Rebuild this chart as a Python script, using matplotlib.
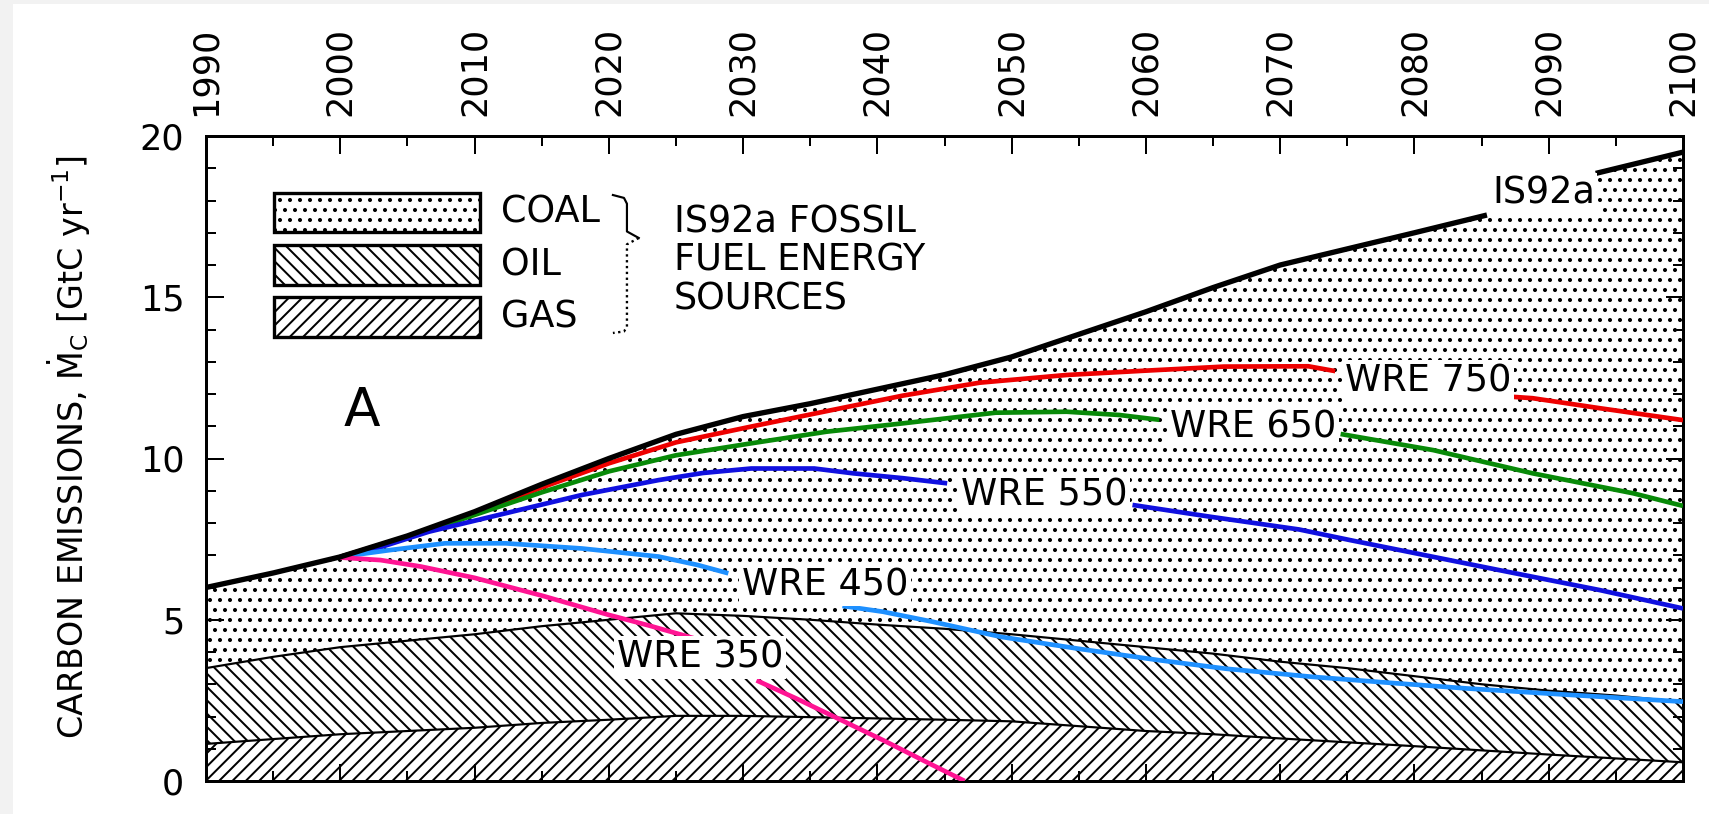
import matplotlib
matplotlib.use("Agg")
import matplotlib.pyplot as plt
import numpy as np
from matplotlib.patches import Rectangle
from matplotlib.ticker import MultipleLocator

plt.rcParams['font.family'] = ['DejaVu Sans']
plt.rcParams['hatch.linewidth'] = 1.2

# IS92a fossil fuel emissions split by source (GtC/yr)
years = [1990, 1995, 2000, 2005, 2010, 2015, 2020, 2025, 2030, 2035, 2040, 2045,
         2050, 2055, 2060, 2065, 2070, 2075, 2080, 2085, 2090, 2095, 2100]
total_is92a = [6.0, 6.45, 6.95, 7.6, 8.35, 9.2, 10.0, 10.75, 11.3, 11.7, 12.15, 12.6,
               13.15, 13.85, 14.55, 15.3, 16.0, 16.5, 17.0, 17.55, 18.3, 18.95, 19.5]
oil_top = [3.5, 3.85, 4.15, 4.35, 4.55, 4.8, 5.0, 5.2, 5.12, 5.0, 4.85, 4.72,
           4.55, 4.35, 4.15, 3.95, 3.7, 3.5, 3.25, 3.0, 2.8, 2.65, 2.45]
gas_top = [1.15, 1.3, 1.45, 1.55, 1.65, 1.8, 1.9, 2.02, 2.02, 1.98, 1.94, 1.9,
           1.85, 1.7, 1.55, 1.45, 1.32, 1.2, 1.08, 0.95, 0.82, 0.7, 0.58]

# IS92a curve as drawn (gap where its label sits)
is92a_line_years = [1990, 1995, 2000, 2005, 2010, 2015, 2020, 2025, 2030, 2035, 2040, 2045,
                    2050, 2055, 2060, 2065, 2070, 2075, 2080, 2085.4, np.nan, 2093.5, 2100]
is92a_line_vals = [6.0, 6.45, 6.95, 7.6, 8.35, 9.2, 10.0, 10.75, 11.3, 11.7, 12.15, 12.6,
                   13.15, 13.85, 14.55, 15.3, 16.0, 16.5, 17.0, 17.55, np.nan, 18.84, 19.5]

# WRE stabilisation pathways (NaN = break for the label)
wre750_years = [2000, 2005, 2010, 2015, 2020, 2025, 2030.6, 2036, 2041.9, 2047.6, 2054.1,
                2059.8, 2065.8, 2072.1, 2074.1, np.nan, 2086, 2088.8, 2093.8, 2100]
wre750_vals = [6.95, 7.58, 8.3, 9.1, 9.85, 10.5, 10.99, 11.45, 11.95, 12.35, 12.59,
               12.72, 12.85, 12.86, 12.71, np.nan, 11.95, 11.87, 11.56, 11.19]

wre650_years = [2000, 2005, 2010, 2015, 2020, 2025, 2030.6, 2036.2, 2041.9, 2048.8, 2054.1,
                2058, 2061, np.nan, 2074.5, 2081.4, 2088.8, 2096.3, 2100]
wre650_vals = [6.95, 7.55, 8.25, 8.95, 9.6, 10.1, 10.47, 10.83, 11.09, 11.42, 11.45,
               11.35, 11.2, np.nan, 10.76, 10.26, 9.54, 8.92, 8.53]

wre550_years = [2000, 2003, 2006.6, 2012.3, 2018, 2023.7, 2027, 2030.6, 2035.3, 2038.2,
                2041.9, 2045.2, np.nan, 2059, 2064.7, 2071.4, 2075.2, 2078.9, 2086.3, 2093.8, 2100]
wre550_vals = [6.95, 7.25, 7.73, 8.3, 8.87, 9.33, 9.55, 9.69, 9.69, 9.54,
               9.39, 9.23, np.nan, 8.56, 8.2, 7.8, 7.47, 7.16, 6.54, 5.92, 5.35]

wre450_years = [2000, 2003.7, 2007.8, 2012.3, 2018, 2023.7, 2026.6, 2028.9, np.nan,
                2037.4, 2040.4, 2044.1, 2049.2, 2055, 2060.9, 2066, 2072.4, 2078, 2083.9, 2091.6, 2100]
wre450_vals = [6.95, 7.16, 7.37, 7.37, 7.21, 6.96, 6.7, 6.44, np.nan,
               5.43, 5.25, 4.94, 4.47, 4.1, 3.75, 3.48, 3.23, 3.05, 2.87, 2.67, 2.46]

wre350_years = [2000, 2003, 2006, 2010, 2015, 2020, 2023, 2026.3, np.nan,
                2031, 2034, 2037, 2040.5, 2043.5, 2046.5]
wre350_vals = [6.93, 6.85, 6.65, 6.3, 5.75, 5.15, 4.82, 4.43, np.nan,
               3.12, 2.55, 1.95, 1.25, 0.62, 0.0]

wre_series = [
    ('WRE 750', wre750_years, wre750_vals, '#ee0000', (2074.8, 12.39)),
    ('WRE 650', wre650_years, wre650_vals, '#088a08', (2061.8, 10.99)),
    ('WRE 550', wre550_years, wre550_vals, '#1010e0', (2046.2, 8.87)),
    ('WRE 450', wre450_years, wre450_vals, '#1e90ff', (2029.9, 6.08)),
    ('WRE 350', wre350_years, wre350_vals, '#ff1493', (2020.6, 3.83)),
]

source_names = ['COAL', 'OIL', 'GAS']
source_hatches = ['..', '\\\\\\', '///']

fig = plt.figure(figsize=(1709 / 120, 814 / 120), dpi=120)
fig.patch.set_facecolor('white')
# thin grey frame along the left and top edges
fig.patches.append(Rectangle((0, 0), 13 / 1709, 1, transform=fig.transFigure,
                             facecolor='#f2f2f2', edgecolor='none', zorder=-10))
fig.patches.append(Rectangle((0, 1 - 4 / 814), 1, 4 / 814, transform=fig.transFigure,
                             facecolor='#f2f2f2', edgecolor='none', zorder=-10))

ax = fig.add_axes([206 / 1709, 33 / 814, 1477 / 1709, 645 / 814])

# stacked fuel sources
zeros = np.zeros(len(years))
ax.fill_between(years, zeros, gas_top, facecolor='white', edgecolor='black',
                hatch=source_hatches[2], linewidth=0, zorder=1)
ax.fill_between(years, gas_top, oil_top, facecolor='white', edgecolor='black',
                hatch=source_hatches[1], linewidth=0, zorder=1)
ax.fill_between(years, oil_top, total_is92a, facecolor='white', edgecolor='black',
                hatch=source_hatches[0], linewidth=0, zorder=1)
ax.plot(years, gas_top, color='black', lw=1.3, zorder=2)
ax.plot(years, oil_top, color='black', lw=1.3, zorder=2)
ax.plot(is92a_line_years, is92a_line_vals, color='black', lw=3.2,
        solid_capstyle='butt', zorder=4)
ax.text(2085.8, 18.23, 'IS92a', fontsize=22, va='center', ha='left', zorder=5,
        bbox=dict(facecolor='white', edgecolor='none', pad=1))

for name, xs, ys, color, (lx, ly) in wre_series:
    ax.plot(xs, ys, color=color, lw=2.8, solid_capstyle='butt', zorder=3)
    ax.text(lx, ly, name, fontsize=22, va='center', ha='left', zorder=5,
            bbox=dict(facecolor='white', edgecolor='none', pad=1.5))

ax.set_xlim(1990, 2100)
ax.set_ylim(0, 20)

# axes styling: inward ticks on every side, year labels on top
ax.xaxis.set_major_locator(MultipleLocator(10))
ax.xaxis.set_minor_locator(MultipleLocator(5))
ax.yaxis.set_major_locator(MultipleLocator(5))
ax.yaxis.set_minor_locator(MultipleLocator(1))
ax.tick_params(which='both', direction='in', top=True, bottom=True, left=True, right=True,
               labeltop=True, labelbottom=False, width=1.2)
ax.tick_params(which='major', length=10.5)
ax.tick_params(which='minor', length=6)
ax.tick_params(axis='x', which='major', labelsize=21, pad=12, labelrotation=90)
ax.tick_params(axis='y', which='major', labelsize=21, pad=13)
for spine in ax.spines.values():
    spine.set_linewidth(1.8)

fig.text(69 / 1709, 1 - 447 / 814,
         r'CARBON EMISSIONS, $\dot{\mathrm{M}}_{\mathrm{C}}$ [GtC yr$^{-1}$]',
         rotation=90, ha='center', va='center', fontsize=20)

# legend swatches for the fuel sources
box_rows = [(0.8516, 0.9121), (0.769, 0.831), (0.6888, 0.7509)]
for (y0, y1), name, hatch in zip(box_rows, source_names, source_hatches):
    ax.add_patch(Rectangle((0.046, y0), 0.1395, y1 - y0, transform=ax.transAxes,
                           facecolor='white', edgecolor='black', hatch=hatch,
                           linewidth=2, zorder=6))
    ax.text(0.1997, (y0 + y1) / 2, name, transform=ax.transAxes, fontsize=22,
            va='center', ha='left', zorder=6)

# brace: solid upper half, dotted lower half
ax.plot([0.2755, 0.283, 0.285, 0.285, 0.293], [0.9085, 0.904, 0.895, 0.852, 0.8419],
        transform=ax.transAxes, color='black', lw=1.3, clip_on=False, zorder=6)
ax.plot([0.293, 0.285, 0.285, 0.283, 0.2755], [0.8419, 0.832, 0.704, 0.697, 0.6946],
        transform=ax.transAxes, color='black', lw=1.4, ls=(0, (1, 1.5)),
        clip_on=False, zorder=6)
ax.text(0.3169, 0.807, 'IS92a FOSSIL\nFUEL ENERGY\nSOURCES', transform=ax.transAxes,
        fontsize=22, va='center', ha='left', linespacing=1.05, zorder=6)

ax.text(0.1056, 0.5736, 'A', transform=ax.transAxes, fontsize=32,
        va='center', ha='center', zorder=6)

fig.savefig('out.png', dpi=120)
